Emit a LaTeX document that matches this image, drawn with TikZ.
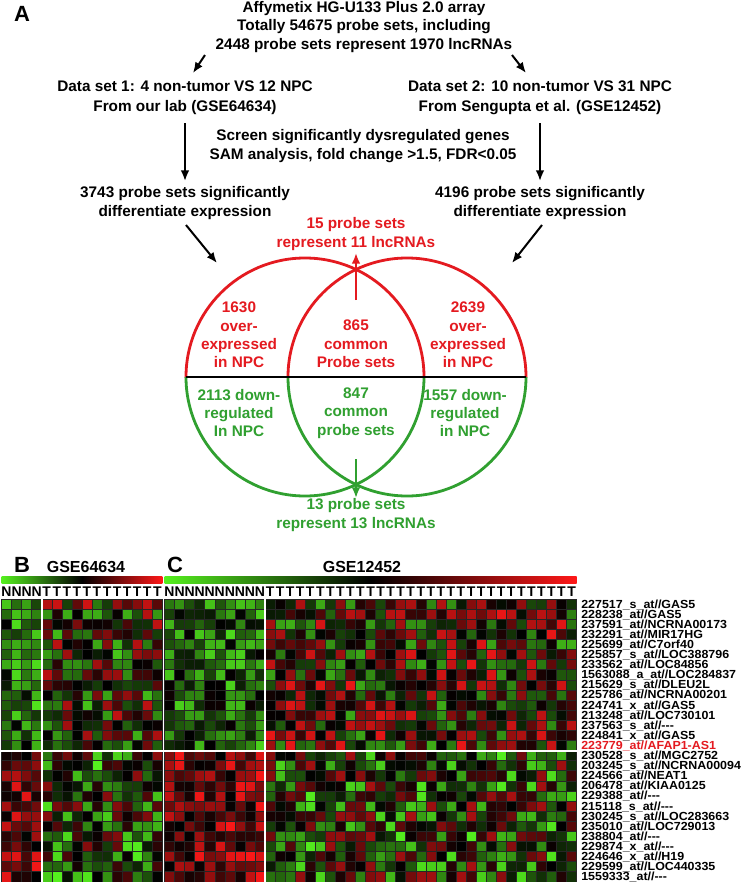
\documentclass[tikz,border=0pt]{standalone}
\usepackage{fontspec}
\setmainfont{Liberation Sans}
\newfontfamily\labfont{Liberation Sans}[FakeStretch=1.06]
\usetikzlibrary{arrows.meta}
\definecolor{vred}{RGB}{228,26,32}
\definecolor{vgreen}{RGB}{48,160,48}
\definecolor{hgreen}{RGB}{85,240,30}
\definecolor{hred}{RGB}{255,24,24}
\newcommand\hmcell[4]{%
  \pgfmathsetmacro\hv{max(-1,min(1,#3+#4*rand))}%
  \pgfmathtruncatemacro\hp{100*abs(\hv)^1.15}%
  \ifdim\hv pt<0pt\relax
    \filldraw[fill=hgreen!\hp!black,draw=black!85,line width=0.35pt] ({#1},{#2}) rectangle ++(10.05,10.1);%
  \else
    \filldraw[fill=hred!\hp!black,draw=black!85,line width=0.35pt] ({#1},{#2}) rectangle ++(10.05,10.1);%
  \fi}
\begin{document}
\begin{tikzpicture}[x=0.75pt,y=-0.75pt,
  txt/.style={inner sep=0pt, align=center, font=\fontsize{11.5}{13.8}\selectfont\bfseries},
  txtw/.style={inner sep=0pt, align=center, font=\fontsize{11.5}{15}\selectfont\bfseries},
  panel/.style={inner sep=0pt, font=\fontsize{16.5}{18}\selectfont\bfseries},
  gse/.style={inner sep=0pt, font=\fontsize{12}{14}\selectfont\bfseries},
  ntl/.style={inner sep=0pt, font=\fontsize{10.5}{12}\selectfont\bfseries},
  lab/.style={inner sep=0pt, anchor=base west, text height=6.4pt, text depth=0.6pt,
    font=\labfont\fontsize{8.8}{9.5}\selectfont\bfseries},
  arr/.style={line width=1.5pt, -{Latex[length=8pt,width=6.5pt]}},
  venn/.style={line width=2.1pt}]
\useasboundingbox (0,0) rectangle (741,882);
\fill[white] (0,0) rectangle (741,882);

% ---------------- panel A -----------------
\node[panel] (pA) at (22,14) {A};
\node[txt] (title) at (364,27) {Affymetix HG-U133 Plus 2.0 array\\Totally 54675 probe sets, including\\2448 probe sets represent 1970 lncRNAs};
\node[txtw] (ds1) at (185,98) {Data set 1: 4 non-tumor VS 12 NPC\\From our lab (GSE64634)};
\node[txtw] (ds2) at (540,98) {Data set 2: 10 non-tumor VS 31 NPC\\From Sengupta et al. (GSE12452)};
\node[txt] (screen) at (363,146) {Screen significantly dysregulated genes\\SAM analysis, fold change >1.5, FDR<0.05};
\node[txt] (d3743) at (185,203) {3743 probe sets significantly\\differentiate expression};
\node[txt] (d4196) at (540,203) {4196 probe sets significantly\\differentiate expression};
\node[txt, text=vred] (r15) at (356,234) {15 probe sets\\represent 11 lncRNAs};

\coordinate (a1s) at (205,55); \coordinate (a1e) at (193,73);
\coordinate (a2s) at (512,55); \coordinate (a2e) at (526,73);
\coordinate (a5s) at (186,225); \coordinate (a5e) at (217,263);
\coordinate (a6s) at (542,225); \coordinate (a6e) at (512,263);
\draw[arr] (a1s) -- (a1e);
\draw[arr] (a2s) -- (a2e);
\draw[arr, shorten <=6pt, shorten >=4pt] (ds1) -- (d3743);
\draw[arr, shorten <=6pt, shorten >=4pt] (ds2) -- (d4196);
\draw[arr] (a5s) -- (a5e);
\draw[arr] (a6s) -- (a6e);

% Venn
\coordinate (cL) at (305,377);
\coordinate (cR) at (407,377);
\coordinate (lnL) at (186,377);
\coordinate (lnR) at (526,377);
\begin{scope}
  \clip (0,240) rectangle (741,377);
  \draw[venn, vred] (cL) circle[radius=119];
  \draw[venn, vred] (cR) circle[radius=119];
\end{scope}
\begin{scope}
  \clip (0,377) rectangle (741,520);
  \draw[venn, vgreen] (cL) circle[radius=119];
  \draw[venn, vgreen] (cR) circle[radius=119];
\end{scope}
\draw[line width=2.2pt] (lnL) -- (lnR);

\coordinate (r1s) at (356,300); \coordinate (r1e) at (356,253);
\draw[arr, vred] (r1s) -- (r1e);
\coordinate (g1s) at (356,459); \coordinate (g1e) at (356,498);
\draw[arr, vgreen] (g1s) -- (g1e);

\node[txt, text=vred] (vl) at (239,335) {1630\\over-\\expressed\\in NPC};
\node[txt, text=vred] (vm) at (356,344) {865\\common\\Probe sets};
\node[txt, text=vred] (vr) at (468,335) {2639\\over-\\expressed\\in NPC};
\node[txt, text=vgreen] (gl) at (239,413) {2113 down-\\regulated\\In NPC};
\node[txt, text=vgreen] (gm) at (356,413) {847\\common\\probe sets};
\node[txt, text=vgreen] (gr) at (465,413) {1557 down-\\regulated\\in NPC};
\node[txt, text=vgreen] (g13) at (356,515) {13 probe sets\\represent 13 lncRNAs};

% ---------------- panels B and C -----------------
\node[panel] (pB) at (22,565) {B};
\node[panel] (pC) at (175,565) {C};
\node[gse] (gB) at (86,567) {GSE64634};
\node[gse] (gC) at (362,567) {GSE12452};
\shade[left color=hgreen, right color=hred, middle color=black] (1.5,576) rectangle (162.3,583.5);
\shade[left color=hgreen, right color=hred, middle color=black] (164.5,576) rectangle (576.5,583.5);

\foreach \c in {1,...,16}{
  \node[ntl] (ntB\c) at ({1.5+(\c-0.5)*10.05},592) {\ifnum\c<5 N\else T\fi};
}
\foreach \c in {1,...,41}{
  \node[ntl] (ntC\c) at ({164.5+(\c-0.5)*10.05},592) {\ifnum\c<11 N\else T\fi};
}

\pgfmathsetseed{31337}
\foreach \r in {1,...,28}{
  \foreach \c in {1,...,16}{
    \pgfmathsetmacro\hb{ifthenelse(\r<16, ifthenelse(\c<5,-0.5,0.0), ifthenelse(\c<5,0.45,-0.25))}
    \pgfmathsetmacro\hs{ifthenelse(\c<5,0.5,0.85)}
    \hmcell{1.5+(\c-1)*10.05}{599+(\r-1)*10.1}{\hb}{\hs}
  }
  \foreach \c in {1,...,41}{
    \pgfmathsetmacro\hb{ifthenelse(\r<16, ifthenelse(\c<11,-0.42,0.08), ifthenelse(\c<11,0.5,-0.15))}
    \pgfmathsetmacro\hs{ifthenelse(\c<11,0.5,0.85)}
    \hmcell{164.5+(\c-1)*10.05}{599+(\r-1)*10.1}{\hb}{\hs}
  }
}
\draw[white, line width=1.5pt] (41.7,599) -- (41.7,882);
\draw[white, line width=1.5pt] (265,599) -- (265,882);
\draw[white, line width=1.5pt] (0,750.5) -- (578,750.5);

\foreach \t [count=\i] in {%
  227517\_s\_at//GAS5, 228238\_at//GAS5, 237591\_at//NCRNA00173, 232291\_at//MIR17HG,
  225699\_at//C7orf40, 225857\_s\_at//LOC388796, 233562\_at//LOC84856, 1563088\_a\_at//LOC284837,
  215629\_s\_at//DLEU2L, 225786\_at//NCRNA00201, 224741\_x\_at//GAS5, 213248\_at//LOC730101,
  237563\_s\_at//-{}-{}-, 224841\_x\_at//GAS5, \textcolor{vred}{223779\_at//AFAP1-AS1},
  230528\_s\_at//MGC2752, 203245\_s\_at//NCRNA00094, 224566\_at//NEAT1, 206478\_at//KIAA0125,
  229388\_at//-{}-{}-, 215118\_s\_at//-{}-{}-, 230245\_s\_at//LOC283663, 235010\_at//LOC729013,
  238804\_at//-{}-{}-, 229874\_x\_at//-{}-{}-, 224646\_x\_at//H19, 229599\_at//LOC440335,
  1559333\_at//-{}-{}-}{
  \node[lab] (lab\i) at (581,{599+(\i-0.5)*10.1+4.0}) {\t};
}
\end{tikzpicture}
\end{document}
